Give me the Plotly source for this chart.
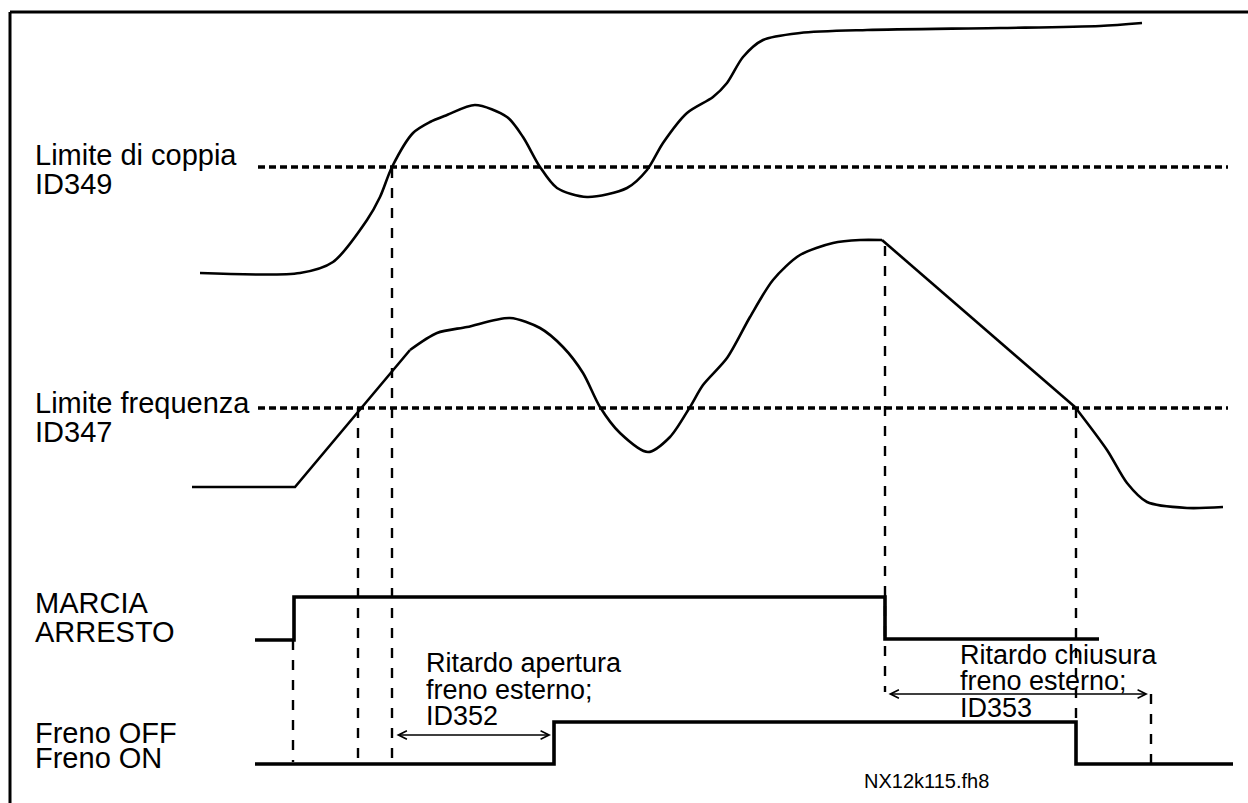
import plotly.graph_objects as go

# ---- Data (diagram units: x = time axis, y = level, downward) ----
torque_x = [200, 300, 333, 367, 380, 392, 413, 430, 447, 475, 507, 523, 540, 557, 587,
            627, 647, 663, 687, 713, 727, 743, 763, 800, 867, 1000, 1100, 1142]
torque_y = [273, 273, 262, 220, 197, 167, 133, 122, 115, 105, 117, 137, 167, 188, 197,
            188, 170, 143, 113, 97, 83, 57, 40, 33, 30, 28, 26, 23]

freq_ramp_x = [192, 295, 410]
freq_ramp_y = [487, 487, 350]
freq_wave_x = [410, 437, 467, 510, 540, 563, 583, 600, 620, 648, 670, 690, 703, 727, 750,
               773, 800, 833, 860, 882]
freq_wave_y = [350, 333, 327, 318, 328, 347, 373, 407, 433, 452, 437, 407, 385, 358, 317,
               280, 255, 243, 240, 240]
freq_decl_x = [882, 1075]
freq_decl_y = [240, 407]
freq_tail_x = [1075, 1107, 1127, 1147, 1187, 1223]
freq_tail_y = [407, 450, 483, 502, 508, 507]

torque_limit_y = 167
freq_limit_y = 408
limit_x = [258, 1228]

run_x = [255, 294, 294, 885, 885, 1099]
run_y = [640, 640, 597, 597, 639, 639]

brake_x = [255, 554, 554, 1076, 1076, 1233]
brake_y = [764, 764, 722, 722, 764, 764]

vline_x = [293, 358, 392, 885, 1076, 1151]
vline_top = [640, 408, 168, 246, 408, 694]
vline_bot = [762, 760, 758, 692, 722, 764]

arrow_open = (395, 551, 735)
arrow_close = (887, 1148, 694)

side_labels = [
    ("Limite di coppia", 33, 165),
    ("ID349", 33, 194),
    ("Limite frequenza", 33, 413),
    ("ID347", 33, 442),
    ("MARCIA", 33, 613),
    ("ARRESTO", 33, 642),
    ("Freno OFF", 33, 743),
    ("Freno ON", 33, 768),
]
delay_labels = [
    ("Ritardo apertura", 424, 672),
    ("freno esterno;", 424, 699),
    ("ID352", 424, 725),
    ("Ritardo chiusura", 958, 664),
    ("freno esterno;", 958, 690),
    ("ID353", 958, 717),
]
file_tag = ("NX12k115.fh8", 862, 788)

FONT = "Liberation Sans, Arial, sans-serif"

fig = go.Figure()

def line(x, y, width=2.6, dash="solid", shape="linear"):
    fig.add_trace(go.Scatter(x=x, y=y, mode="lines", hoverinfo="skip",
                             line=dict(color="black", width=width, dash=dash, shape=shape,
                                       smoothing=0.8)))

# frame
line([10, 1248], [12, 12], width=3)
line([10, 10], [12, 803], width=3)

# limits
line(limit_x, [torque_limit_y] * 2, width=3.5, dash="7px,4px")
line(limit_x, [freq_limit_y] * 2, width=3.5, dash="7px,4px")

# vertical dashed guides
for xv, yt, yb in zip(vline_x, vline_top, vline_bot):
    line([xv, xv], [yt, yb], width=2.4, dash="10px,10px")

# curves
line(torque_x, torque_y, width=2.6, shape="spline")
line(freq_ramp_x, freq_ramp_y, width=2.6)
line(freq_wave_x, freq_wave_y, width=2.6, shape="spline")
line(freq_decl_x, freq_decl_y, width=2.6)
line(freq_tail_x, freq_tail_y, width=2.6, shape="spline")

# step signals
line(run_x, run_y, width=3.6)
line(brake_x, brake_y, width=3.6)

annotations = []
for x0, x1, ya in (arrow_open, arrow_close):
    annotations.append(dict(x=x1, y=ya, ax=x0, ay=ya, xref="x", yref="y", axref="x", ayref="y",
                            text="", showarrow=True, arrowside="end+start", arrowhead=5,
                            arrowsize=1.2, arrowwidth=1.4, arrowcolor="black"))

def add_labels(items, size):
    for txt, x, base in items:
        annotations.append(dict(x=x, y=base - 0.35 * size, xref="x", yref="y", text=txt,
                                showarrow=False, xanchor="left", yanchor="middle",
                                font=dict(family=FONT, size=size, color="black")))

add_labels(side_labels, 29)
add_labels(delay_labels, 27)
add_labels([file_tag], 20)

fig.update_layout(
    width=1248, height=803,
    margin=dict(l=0, r=0, t=0, b=0),
    paper_bgcolor="white", plot_bgcolor="white",
    showlegend=False,
    xaxis=dict(range=[0, 1248], visible=False, fixedrange=True),
    yaxis=dict(range=[803, 0], visible=False, fixedrange=True),
    annotations=annotations,
)

fig.write_html("out.html", config={"displayModeBar": False},
               post_script="document.body.style.margin='0';document.body.style.overflow='hidden';")
